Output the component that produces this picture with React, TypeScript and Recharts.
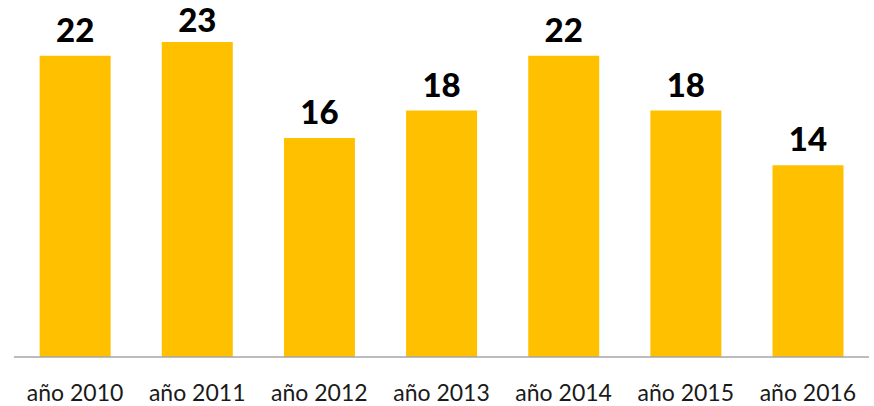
import { BarChart, Bar, XAxis, YAxis, LabelList } from "recharts";

// Yearly totals, 2010–2016.
const years = ["año 2010", "año 2011", "año 2012", "año 2013", "año 2014", "año 2015", "año 2016"];
const totals = [22, 23, 16, 18, 22, 18, 14];

const data = years.map((year, i) => ({ year, total: totals[i] }));

// Value label above each bar; pushed down a little when it would leave the chart
// (the same thing Excel does for the tallest bar).
function ValueLabel(props: any) {
  const { x, y, width, value } = props;
  const baseline = Math.max(y - 14, 32);
  return (
    <text
      x={x + width / 2}
      y={baseline}
      textAnchor="middle"
      fill="#000"
      fontSize={33}
      fontWeight={900}
      fontFamily="Lato"
    >
      {value}
    </text>
  );
}

export default function App() {
  return (
    <div style={{ position: "absolute", left: 0, top: 0, background: "#fff" }}>
      <BarChart
        width={874}
        height={406}
        data={data}
        margin={{ top: 1, right: 5, bottom: 0, left: 14 }}
        barCategoryGap="21%"
      >
        <XAxis
          dataKey="year"
          height={49}
          axisLine={{ stroke: "#A6A6A6", strokeWidth: 1.5 }}
          tickLine={false}
          tickSize={0}
          tickMargin={28}
          interval={0}
          tick={{ fill: "#1a1a1a", fontSize: 23, fontFamily: "Lato" }}
        />
        <YAxis hide domain={[0, 26]} />
        <Bar dataKey="total" fill="#FFC000" isAnimationActive={false}>
          <LabelList dataKey="total" content={<ValueLabel />} />
        </Bar>
      </BarChart>
    </div>
  );
}
